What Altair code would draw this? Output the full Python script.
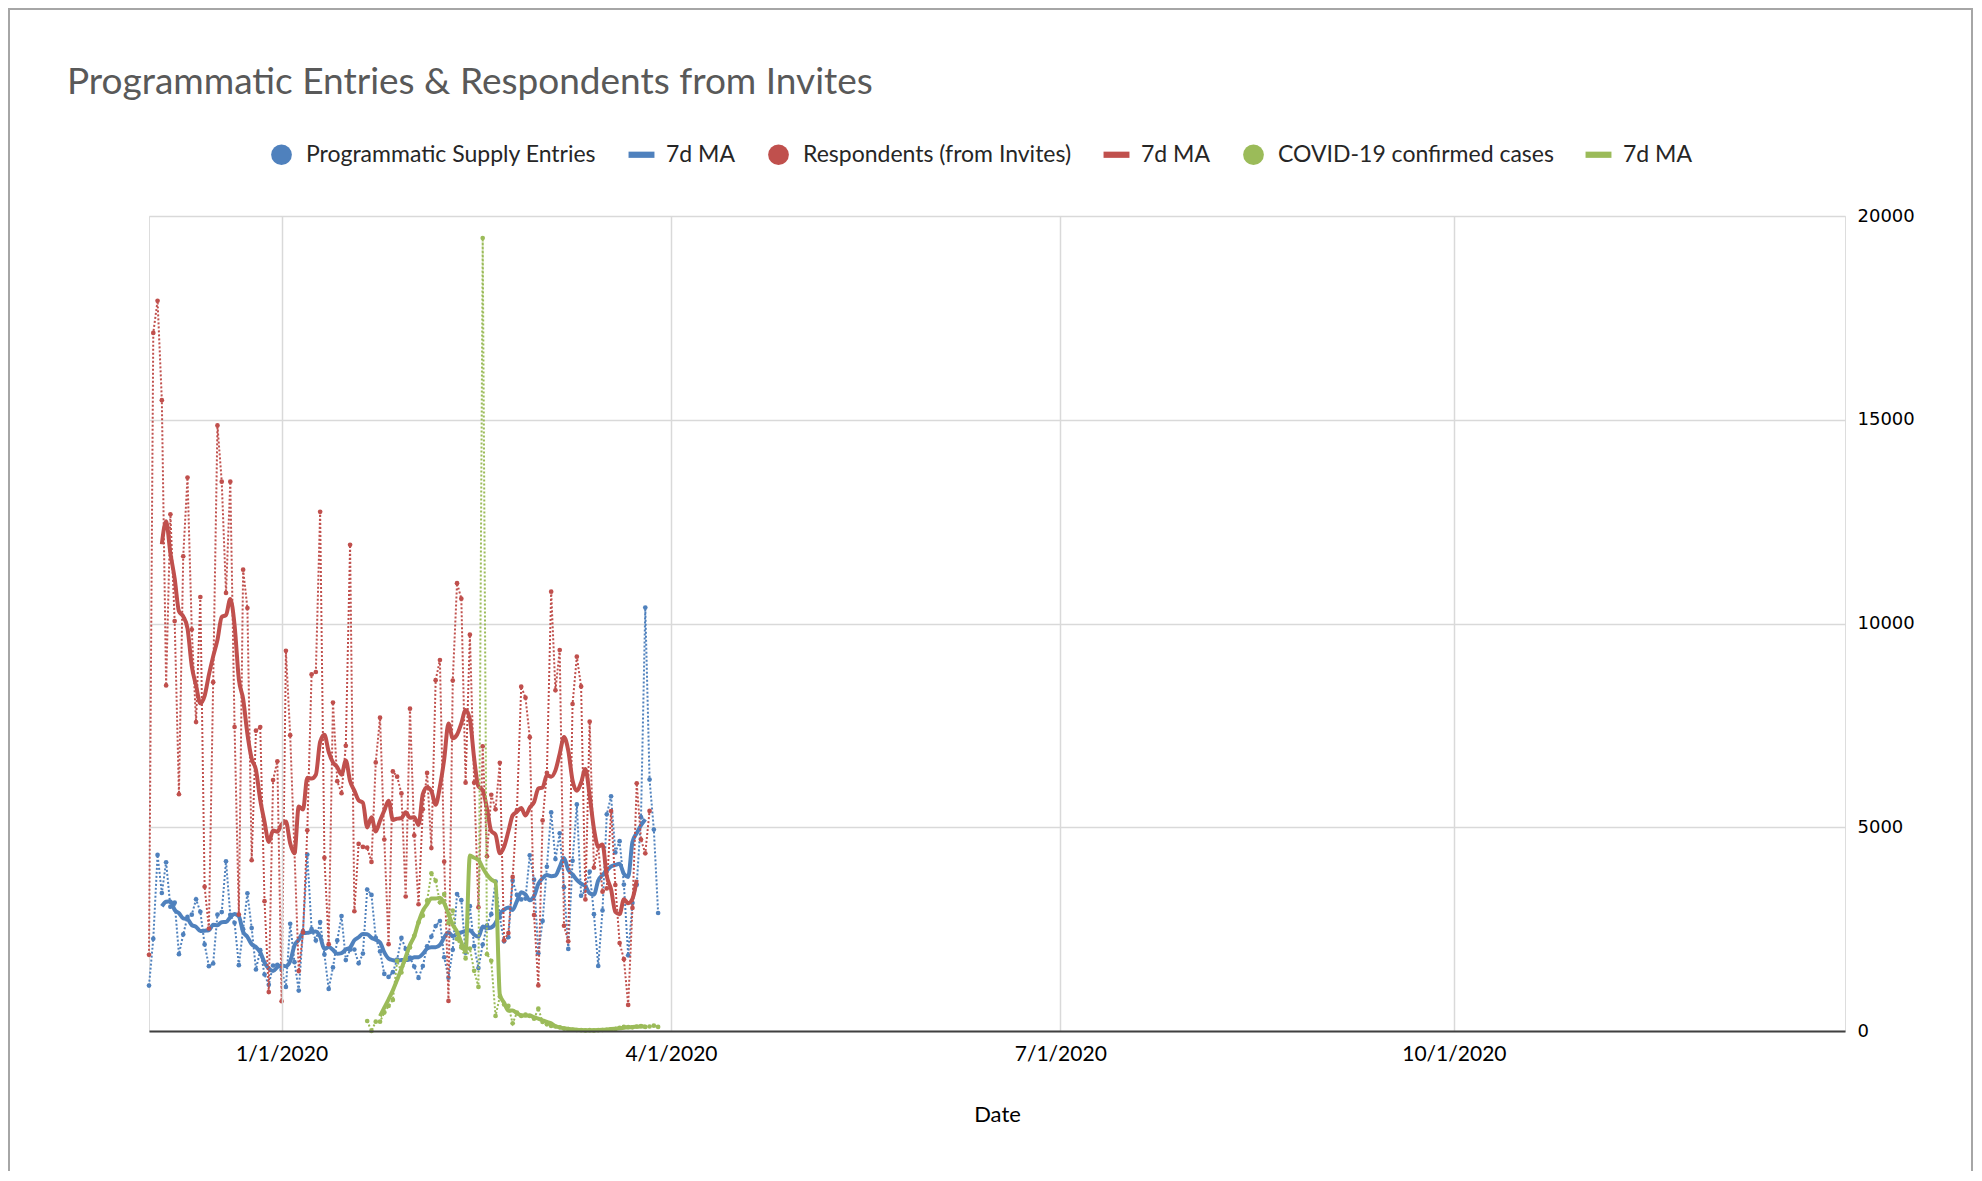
import altair as alt
import pandas as pd

# ---- data ----
entries_start = "2019-12-01"
entries = [1115, 2263, 4321, 3387, 4141, 3050, 3150, 1886, 2370, 2800,
           2854, 3231, 2927, 2124, 1591, 1656, 2854, 2919, 4166, 2850,
           2657, 1615, 2500, 3378, 2526, 1509, 1984, 1386, 1132, 1607,
           1624, 1500, 1082, 2632, 1689, 992, 2450, 4330, 2500, 2222,
           2673, 1880, 1033, 1560, 2222, 2821, 1740, 1994, 2000, 1660,
           1900, 3470, 3340, 2287, 1952, 1400, 1327, 1443, 1755, 2283,
           2015, 1800, 1580, 1300, 1593, 2080, 2316, 2575, 2700, 1810,
           1307, 1994, 3360, 3210, 1920, 3063, 2085, 1544, 2120, 2587,
           2868, 3668, 2787, 2200, 2300, 3690, 3340, 3230, 3250, 4310,
           3714, 1905, 2702, 4030, 5365, 4218, 4850, 3530, 2015, 4175,
           5560, 3321, 3450, 3910, 2868, 1595, 2958, 5318, 5760, 4382,
           4658, 3593, 1857, 3142, 3590, 5247, 10390, 6172, 4943, 2895]

respondents_start = "2019-12-01"
respondents = [1870, 17130, 17920, 15480, 8480, 12680, 10060, 5810, 11650, 13580,
               9850, 7580, 10650, 3540, 2515, 8560, 14860, 13480, 10750, 13480,
               7460, 2857, 11320, 10380, 4190, 7370, 7460, 3185, 955, 6160,
               6620, 730, 9330, 7260, 4400, 1470, 2420, 4925, 8750, 8810,
               12740, 4250, 2130, 8060, 6130, 5835, 7000, 11930, 2938, 4590,
               4517, 4500, 4148, 6590, 7690, 4700, 2130, 6370, 6240, 5830,
               3300, 7910, 4800, 3110, 5440, 6333, 4488, 8610, 9105, 4155,
               738, 8600, 10990, 10610, 6095, 9725, 6095, 3036, 6985, 4286,
               5798, 5440, 6580, 2226, 2405, 3780, 5420, 8450, 8180, 7210,
               2845, 1119, 5167, 6335, 10780, 8360, 9350, 2583, 2200, 8024,
               9185, 8455, 3230, 7590, 4010, 4530, 3420, 3500, 5396, 3583,
               2157, 1763, 640, 3020, 6080, 4700, 4360, 5400]

covid_start = "2020-01-21"
covid = [246, 0, 230, 230, 451, 615, 763, 1722, 1435, 1763,
         2050, 2337, 2665, 2829, 3198, 3870, 3690, 3157, 3362, 2649,
         2952, 2260, 2050, 1779, 2025, 1476, 1082, 19460, 1886, 1722,
         369, 845, 653, 615, 189, 451, 369, 400, 369, 300,
         549, 221, 164, 123, 110, 90, 60, 45, 30, 25,
         20, 15, 20, 15, 20, 25, 30, 40, 45, 80,
         100, 95, 90, 110, 120, 100, 110, 130, 100]

series_names = ["Programmatic Supply Entries", "Respondents (from Invites)", "COVID-19 confirmed cases"]
ma_names = ["ma_entries", "ma_respondents", "ma_covid"]
colors = ["#4F81BD", "#C0504D", "#9BBB59"]
y_ticks = [0, 5000, 10000, 15000, 20000]
x_ticks = [(2020, 1, 1), (2020, 4, 1), (2020, 7, 1), (2020, 10, 1)]


def frame(values, first, key):
    dates = pd.date_range(first, periods=len(values), freq="D")
    return pd.DataFrame({"date": dates.strftime("%Y-%m-%d"), "value": values, "key": key})


data = pd.concat([
    frame(entries, entries_start, series_names[0]),
    frame(respondents, respondents_start, series_names[1]),
    frame(covid, covid_start, series_names[2]),
], ignore_index=True)

legend_domain = [series_names[0], ma_names[0], series_names[1], ma_names[1], series_names[2], ma_names[2]]
legend_colors = [colors[0], colors[0], colors[1], colors[1], colors[2], colors[2]]
bar_path = "M-1.25,-0.3H1.25V0.3H-1.25Z"
legend_shapes = ["circle", bar_path, "circle", bar_path, "circle", bar_path]

FONT = "Lato"

legend = alt.Legend(
    orient="none", legendX=121, legendY=-73, direction="horizontal", columns=6,
    title=None, labelFont=FONT, labelFontSize=23, labelColor="#262626", labelLimit=0,
    symbolSize=430, labelOffset=13, columnPadding=31, symbolStrokeWidth=0,
    labelExpr="indexof(datum.label, 'ma_') == 0 ? '7d MA' : datum.label",
)
color_scale = alt.Scale(domain=legend_domain, range=legend_colors)
shape_scale = alt.Scale(domain=legend_domain, range=legend_shapes)

x_enc = alt.X(
    "date:T",
    scale=alt.Scale(type="utc", domain=[alt.DateTime(year=2019, month=12, date=1, utc=True),
                                        alt.DateTime(year=2020, month=12, date=31, hours=10, utc=True)]),
    axis=alt.Axis(
        values=[alt.DateTime(year=y, month=m, date=d, utc=True) for (y, m, d) in x_ticks],
        format="%-m/%-d/%Y", title="Date", labelFont=FONT, labelFontSize=21, labelColor="#000000",
        labelPadding=12, ticks=False, grid=True, gridColor="#D9D9D9", gridWidth=1.5,
        domain=True, domainColor="#404040", domainWidth=2, titleFont=FONT, titleFontSize=22,
        titleFontWeight="normal", titleColor="#000000", titlePadding=40, zindex=1,
    ),
)
y_enc = alt.Y(
    "value:Q",
    scale=alt.Scale(domain=[0, 20000], nice=False),
    axis=alt.Axis(
        orient="right", values=y_ticks, format="d", title=None, labelFont="DejaVu Sans",
        labelFontSize=18, labelColor="#000000", labelPadding=12, ticks=False, domain=False,
        grid=True, gridColor="#D9D9D9", gridWidth=1.5,
    ),
)

base = alt.Chart(data)
layers = []
for name, ma, col in zip(series_names, ma_names, colors):
    sel = base.transform_filter(alt.datum.key == name).transform_calculate(lk="datum.key")
    dotted = sel.mark_line(strokeWidth=2, strokeDash=[2, 2]).encode(
        x=x_enc, y=y_enc, color=alt.Color("lk:N", scale=color_scale, legend=legend)
    )
    pts = sel.mark_point(filled=True, size=22, opacity=1).encode(
        x=x_enc, y=y_enc,
        color=alt.Color("lk:N", scale=color_scale, legend=legend),
        shape=alt.Shape("lk:N", scale=shape_scale, legend=legend),
    )
    avg = (
        base.transform_filter(alt.datum.key == name)
        .transform_window(ma="mean(value)", n="count()", frame=[-3, 3], sort=[alt.SortField("date")])
        .transform_filter("datum.n == 7")
        .transform_calculate(lk=f"'{ma}'")
        .mark_line(strokeWidth=4, interpolate="monotone")
        .encode(x=x_enc, y=alt.Y("ma:Q", scale=alt.Scale(domain=[0, 20000], nice=False)),
                color=alt.Color("lk:N", scale=color_scale, legend=legend))
    )
    layers += [dotted, pts, avg]

border = alt.Chart(pd.DataFrame({"a": [0]})).mark_rect(
    filled=False, stroke="#A6A6A6", strokeWidth=2
).encode(x=alt.value(-140), x2=alt.value(1823), y=alt.value(-207), y2=alt.value(1000))

chart = alt.layer(border, *layers).properties(
    width=1696, height=815,
    title=alt.TitleParams(
        "Programmatic Entries & Respondents from Invites", anchor="start", frame="group",
        font=FONT, fontSize=37, fontWeight="normal", color="#595959", dx=-82, dy=0,
        offset=-123, baseline="alphabetic",
    ),
    autosize=alt.AutoSizeParams(type="none"),
    padding={"left": 141, "top": 208, "right": 129, "bottom": 140},
).configure_view(stroke=None).configure(background="#FFFFFF")

chart.save("out.html", embed_options={"renderer": "svg", "actions": False})
